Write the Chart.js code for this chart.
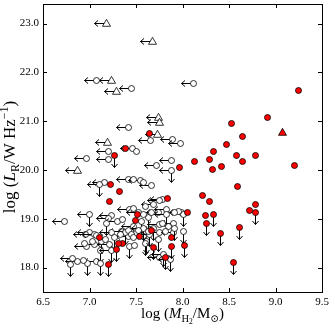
<!DOCTYPE html>
<html>
<head>
<meta charset="utf-8">
<script src="https://cdn.jsdelivr.net/npm/chart.js@4.4.0/dist/chart.umd.min.js"></script>
<style>
  html, body { margin: 0; padding: 0; background: #fff; }
  #wrap { width: 335px; height: 329px; }
</style>
</head>
<body>
<div id="wrap"><canvas id="chart" width="335" height="329"></canvas></div>
<script>
// tick labels
const xTicks = [6.5, 7.0, 7.5, 8.0, 8.5, 9.0, 9.5];
const yTicks = [18, 19, 20, 21, 22, 23];

// red detections
const redX = [9.25, 8.91, 8.53, 8.65, 8.475, 8.33, 8.58, 8.79, 8.285, 8.13, 8.64, 8.42, 8.32, 9.20, 7.97,
  8.59, 8.21, 8.285, 8.78, 8.72, 8.05, 8.25, 7.64, 7.39, 7.23, 7.32, 7.22, 7.84, 7.52, 7.49,
  7.67, 7.54, 7.105, 7.36, 7.31, 7.88];
const redY = [21.62, 21.07, 20.96, 20.68, 20.52, 20.38, 20.30, 20.29, 20.21, 20.17, 20.17, 20.07, 20.00, 20.09, 20.05,
  19.67, 19.48, 19.35, 19.30, 19.16, 19.12, 19.07, 20.74, 20.45, 19.70, 19.55, 19.36, 19.42, 19.08, 18.96,
  18.76, 18.64, 18.62, 18.50, 18.50, 18.62];

// red, upper limit on L_R
const redDownX = [8.78, 8.33, 8.26, 8.41, 8.61, 8.55, 8.02, 7.88, 7.29, 7.69, 7.27, 7.20, 7.82];
const redDownY = [19.12, 19.09, 18.91, 18.69, 18.83, 18.11, 18.45, 18.43, 18.38, 18.41, 20.29, 18.06, 18.21];

// red triangle
const redTriX = [9.08];
const redTriY = [20.76];

// open triangles, upper limit on M_H2
const triLeftX = [7.18, 7.68, 7.24, 7.285, 7.74, 7.75, 7.73, 7.19, 6.87];
const triLeftY = [23.01, 22.64, 21.83, 21.61, 21.08, 20.98, 20.73, 20.56, 19.99];

// open circles, upper limit on M_H2
const openLeftX = [7.07, 7.45, 8.12, 7.42, 7.66, 7.89, 7.98, 7.46, 7.20, 6.97, 7.20, 7.72, 7.88, 7.42, 7.55,
  7.67, 7.165, 7.78, 6.73, 7.24, 7.202, 7.428, 7.686, 7.758, 7.83, 7.525, 7.74, 7.991, 7.346, 7.471,
  7.758, 7.901, 7.005, 6.962, 7.059, 6.97, 7.059, 6.869, 7.07, 6.812, 7.239, 7.417, 7.578, 7.758, 7.901,
  7.22, 7.758, 7.44, 7.30];
const openLeftY = [21.83, 21.66, 21.77, 20.86, 20.61, 20.62, 20.54, 20.45, 20.38, 20.24, 20.21, 20.09, 20.19, 19.80, 19.78,
  19.68, 19.74, 19.40, 18.95, 19.06, 19.01, 19.18, 19.29, 19.37, 19.20, 19.12, 19.12, 19.12, 18.74, 18.84,
  18.88, 18.90, 18.71, 18.67, 18.47, 18.43, 18.67, 18.12, 18.12, 18.18, 18.71, 18.64, 18.64, 18.71, 18.71,
  18.47, 18.21, 18.74, 18.95];

// open circles, upper limit on L_R
const openDownX = [7.185, 7.632, 8.009, 7.382, 7.686, 7.919, 8.009, 7.131, 7.113, 6.798, 6.976, 7.113, 7.274,
  7.615, 7.74, 7.435, 7.597, 7.56];
const openDownY = [18.91, 19.03, 19.08, 18.71, 18.81, 18.81, 18.74, 18.53, 18.36, 18.06, 18.09, 18.08, 18.62,
  18.53, 18.58, 18.43, 18.50, 18.95];

// open circles, limits on both
const openBothX = [7.00, 7.11, 7.88, 7.83, 7.578, 7.239, 7.643, 7.793, 7.866];
const openBothY = [19.08, 19.70, 19.99, 19.08, 18.81, 18.36, 18.67, 18.26, 18.16];

// open circles, no limit
const openX = [7.51, 7.47, 7.58, 7.597, 7.478, 7.955, 7.578, 7.669, 7.919, 7.417, 7.525, 7.632, 7.847, 7.787,
  7.454, 7.077, 6.941, 7.177, 6.933, 7.328, 7.812, 7.489, 7.034, 7.47, 7.36];
const openY = [20.37, 19.80, 19.74, 19.25, 19.22, 19.15, 19.08, 19.13, 19.12, 18.77, 18.77, 18.74, 18.84, 18.91,
  18.67, 18.65, 18.50, 18.57, 18.14, 18.67, 18.74, 18.45, 18.53, 18.62, 18.98];

const serif = '"Liberation Serif", "DejaVu Serif", serif';
const RED = '#ff0000';

function pts(xs, ys) {
  return xs.map((x, i) => ({ x: x, y: ys[i] }));
}

// marker image: shape + optional arrows, centred on the point
function makeMarker(shape, fill, left, down) {
  const L = 12, S = 33, c = S / 2;
  const cv = document.createElement('canvas');
  cv.width = S; cv.height = S;
  const g = cv.getContext('2d');
  g.strokeStyle = '#000';
  g.lineWidth = 1;
  if (left) {
    g.beginPath();
    g.moveTo(c, c); g.lineTo(c - L, c);
    g.moveTo(c - L + 3.5, c - 3); g.lineTo(c - L, c); g.lineTo(c - L + 3.5, c + 3);
    g.stroke();
  }
  if (down) {
    g.beginPath();
    g.moveTo(c, c); g.lineTo(c, c + L);
    g.moveTo(c - 3, c + L - 3.5); g.lineTo(c, c + L); g.lineTo(c + 3, c + L - 3.5);
    g.stroke();
  }
  g.fillStyle = fill;
  g.lineWidth = 0.8;
  g.beginPath();
  if (shape === 'tri') {
    g.moveTo(c, c - 4.2);
    g.lineTo(c - 4, c + 2.8);
    g.lineTo(c + 4, c + 2.8);
    g.closePath();
  } else {
    g.arc(c, c, 3.0, 0, Math.PI * 2);
  }
  g.fill();
  g.stroke();
  return cv;
}

function ds(data, style) {
  return { data: data, pointStyle: style, pointRadius: 4, pointHoverRadius: 4 };
}

function drawRuns(ctx, runs, x, y) {
  let total = 0;
  runs.forEach(r => { ctx.font = r[1]; total += ctx.measureText(r[0]).width; });
  let cx = x - total / 2;
  runs.forEach(r => {
    ctx.font = r[1];
    ctx.fillText(r[0], cx, y + r[2]);
    cx += ctx.measureText(r[0]).width;
  });
}

function noPad(s) {
  s.paddingTop = 0; s.paddingBottom = 0; s.paddingLeft = 0; s.paddingRight = 0;
}

const framePlugin = {
  id: 'frame',
  beforeDatasetsDraw(chart) {
    chart.ctx.imageSmoothingEnabled = false;
  },
  afterDatasetsDraw(chart) {
    chart.ctx.imageSmoothingEnabled = true;
  },
  afterDraw(chart) {
    const ctx = chart.ctx, a = chart.chartArea;
    const xs = chart.scales.x, ys = chart.scales.y;
    ctx.save();
    ctx.strokeStyle = '#000';
    ctx.lineWidth = 1;
    ctx.strokeRect(a.left + 0.5, a.top + 0.5, a.right - a.left, a.bottom - a.top);
    ctx.beginPath();
    xs.ticks.forEach(t => {
      const p = Math.round(xs.getPixelForValue(t.value)) + 0.5;
      ctx.moveTo(p, a.bottom); ctx.lineTo(p, a.bottom - 4);
      ctx.moveTo(p, a.top); ctx.lineTo(p, a.top + 4);
    });
    ys.ticks.forEach(t => {
      const p = Math.round(ys.getPixelForValue(t.value)) + 0.5;
      ctx.moveTo(a.left, p); ctx.lineTo(a.left + 4, p);
      ctx.moveTo(a.right, p); ctx.lineTo(a.right - 4, p);
    });
    ctx.stroke();

    // axis titles with sub/superscripts
    ctx.fillStyle = '#000';
    ctx.textBaseline = 'alphabetic';
    const big = '15px ' + serif, small = '10.5px ' + serif;
    const xRuns = [
      ['log (', big, 0], ['M', 'italic ' + big, 0], ['H', small, 3.5], ['2', '7.5px ' + serif, 5.5],
      ['/M', big, 0], ['\u2299', small, 3.5], [')', big, 0]
    ];
    drawRuns(ctx, xRuns, (a.left + a.right) / 2, 318);
    const yBig = '17px ' + serif, ySmall = '12px ' + serif;
    const yRuns = [
      ['log (', yBig, 0], ['L', 'italic ' + yBig, 0], ['R', ySmall, 4], ['/W Hz', yBig, 0],
      ['\u22121', ySmall, -7], [')', yBig, 0]
    ];
    ctx.save();
    ctx.translate(15, 157);
    ctx.rotate(-Math.PI / 2);
    drawRuns(ctx, yRuns, 0, 0);
    ctx.restore();
    ctx.restore();
  }
};

new Chart(document.getElementById('chart'), {
  type: 'scatter',
  data: {
    datasets: [
      ds(pts(redX, redY), makeMarker('circle', RED, false, false)),
      ds(pts(redTriX, redTriY), makeMarker('tri', RED, false, false)),
      ds(pts(redDownX, redDownY), makeMarker('circle', RED, false, true)),
      ds(pts(openX, openY), makeMarker('circle', '#fff', false, false)),
      ds(pts(openBothX, openBothY), makeMarker('circle', '#fff', true, true)),
      ds(pts(openDownX, openDownY), makeMarker('circle', '#fff', false, true)),
      ds(pts(openLeftX, openLeftY), makeMarker('circle', '#fff', true, false)),
      ds(pts(triLeftX, triLeftY), makeMarker('tri', '#fff', true, false))
    ]
  },
  options: {
    responsive: false,
    animation: false,
    devicePixelRatio: 1,
    layout: { autoPadding: false, padding: { top: 4, right: 13, left: 0, bottom: 0 } },
    plugins: { legend: { display: false }, tooltip: { enabled: false } },
    scales: {
      x: {
        type: 'linear', min: 6.5, max: 9.5,
        afterBuildTicks: s => { s.ticks = xTicks.map(v => ({ value: v })); },
        afterFit: s => { s.height = 37; noPad(s); },
        grid: { display: false, drawTicks: false }, border: { display: false },
        ticks: { padding: 4, color: '#000', font: { family: serif, size: 11 }, maxRotation: 0,
          callback: v => v.toFixed(1) }
      },
      y: {
        type: 'linear', min: 17.5, max: 23.4,
        afterBuildTicks: s => { s.ticks = yTicks.map(v => ({ value: v })); },
        afterFit: s => { s.width = 43; noPad(s); },
        grid: { display: false, drawTicks: false }, border: { display: false },
        ticks: { padding: 4, color: '#000', font: { family: serif, size: 11 },
          callback: v => v.toFixed(1) }
      }
    }
  },
  plugins: [framePlugin]
});
</script>
</body>
</html>
